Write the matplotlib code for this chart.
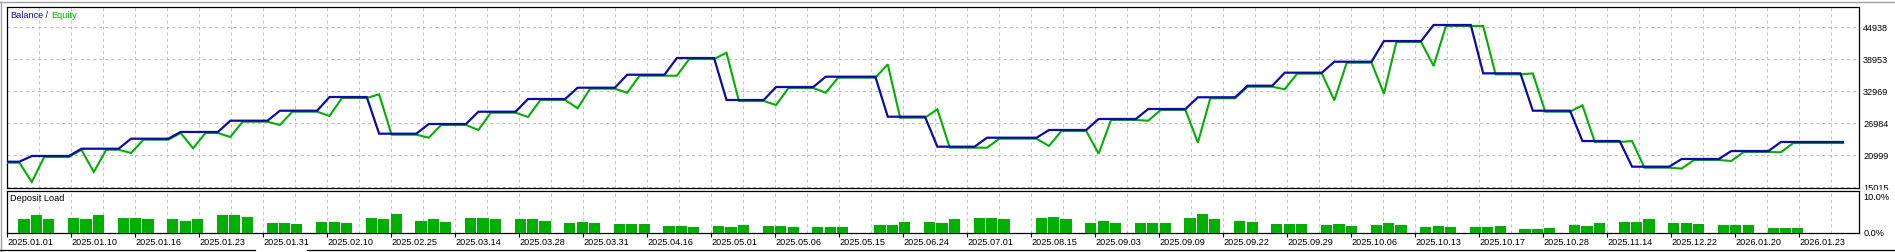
import numpy as np
import matplotlib
matplotlib.use("Agg")
import matplotlib.pyplot as plt
from matplotlib import transforms
from matplotlib.patches import Rectangle
from matplotlib.lines import Line2D

# ---------------- data (x = deal number) ----------------
balance = [
    19800, 19800,
    20870, 20870, 20870, 20870,
    22230, 22230, 22230, 22230,
    24100, 24100, 24100, 24100,
    25360, 25360, 25360, 25360,
    27470, 27470, 27470, 27470,
    29340, 29340, 29340, 29340,
    31900, 31900, 31900, 31900,
    25040, 25040, 25040, 25040,
    26850, 26850, 26850, 26850,
    29150, 29150, 29150, 29150,
    31530, 31530, 31530, 31530,
    33640, 33640, 33640, 33640,
    36070, 36070, 36070, 36070,
    39190, 39190, 39190, 39190,
    31340, 31340, 31340, 31340,
    33770, 33770, 33770, 33770,
    35700, 35700, 35700, 35700, 35700,
    28220, 28220, 28220, 28220,
    22610, 22610, 22610, 22610,
    24290, 24290, 24290, 24290, 24290,
    25730, 25730, 25730, 25730,
    27790, 27790, 27790, 27790,
    29660, 29660, 29660, 29660,
    31850, 31850, 31850, 31850,
    34010, 34010, 34010,
    36450, 36450, 36450, 36450,
    38500, 38500, 38500, 38500,
    42370, 42370, 42370, 42370,
    45370, 45370, 45370, 45370,
    36330, 36330, 36330, 36330,
    29340, 29340, 29340, 29340,
    23670, 23670, 23670, 23670,
    18870, 18870, 18870, 18870,
    20310, 20310, 20310, 20310,
    21800, 21800, 21800, 21800,
    23490, 23490, 23490, 23490, 23490, 23490,
]

equity = [
    19800, 19800, 16190, 20870, 20870, 20870,          # 0-5
    22230, 18060, 22230, 22230,                        # 6-9
    21620, 24100, 24100, 24100,                        # 10-13
    25360, 22500, 25360, 25360,                        # 14-17
    24610, 27470, 27470, 27470,                        # 18-21
    26850, 29340, 29340, 29340,                        # 22-25
    28540, 31900, 31900, 31900,                        # 26-29
    32590, 25040, 25040, 25040,                        # 30-33
    24480, 26850, 26850, 26850,                        # 34-37
    25920, 29150, 29150, 29150,                        # 38-41
    28350, 31530, 31530, 31530,                        # 42-45
    29980, 33640, 33640, 33640,                        # 46-49
    32890, 36070, 36070, 36070,                        # 50-53
    36070, 39190, 39190, 39190,                        # 54-57
    40370, 31340, 31340, 31340,                        # 58-61
    30590, 33770, 33770, 33770,                        # 62-65
    32890, 35700, 35700, 35700, 35700,                 # 66-70
    38200, 28220, 28220, 28220,                        # 71-74
    29790, 22610, 22610, 22610,                        # 75-78
    22610, 24290, 24290, 24290, 24290,                 # 79-83
    22930, 25730, 25730, 25730,                        # 84-87
    21490, 27790, 27790, 27790,                        # 88-91
    27650, 29660, 29660, 29660,                        # 92-95
    23540, 31850, 31850, 31850,                        # 96-99
    34010, 34010, 34010,                               # 100-102
    33530, 36450, 36450, 36450,                        # 103-106
    31470, 38500, 38500, 38500,                        # 107-110
    32710, 42370, 42370, 42370,                        # 111-114
    37890, 45370, 45370, 45370,                        # 115-118
    45370, 36330, 36330, 36330,                        # 119-122
    36500, 29340, 29340, 29340,                        # 123-126
    30540, 23670, 23670, 23670,                        # 127-130
    23850, 18870, 18870, 18870,                        # 131-134
    18700, 20310, 20310, 20310,                        # 135-138
    20120, 21800, 21800, 21800,                        # 139-142
    21750, 23490, 23490, 23490, 23490, 23490,          # 143-148
]

load_idx = [1, 2, 3, 5, 6, 7, 9, 10, 11, 13, 14, 15, 17, 18, 19, 21, 22, 23,
            25, 26, 27, 29, 30, 31, 33, 34, 35, 37, 38, 39, 41, 42, 43,
            45, 46, 47, 49, 50, 51, 53, 54, 55, 57, 58, 59, 61, 62, 63,
            65, 66, 67, 70, 71, 72, 74, 75, 76, 78, 79, 80, 83, 84, 85,
            87, 88, 89, 91, 92, 93, 95, 96, 97, 99, 100, 102, 103, 104,
            106, 107, 108, 110, 111, 112, 114, 115, 116, 118, 119, 120,
            122, 123, 124, 126, 127, 128, 130, 131, 132, 134, 135, 136,
            138, 139, 140, 142, 143, 144]
load_pct = [3.8, 4.7, 3.6, 4.1, 3.8, 4.9, 4.1, 4.1, 3.6, 3.6, 3.3, 3.8, 4.7, 4.9, 4.4,
            2.7, 2.7, 2.5, 3.0, 3.0, 2.7, 4.1, 3.8, 5.2, 3.3, 3.6, 3.0, 4.1, 4.1, 3.8,
            3.8, 3.8, 3.3, 2.7, 3.0, 2.7, 2.5, 2.5, 2.5, 1.9, 1.9, 1.6, 1.9, 1.6, 2.2,
            1.9, 1.9, 1.6, 1.6, 1.6, 1.6, 2.2, 2.2, 3.0, 3.0, 2.7, 3.8, 4.1, 4.1, 3.8,
            4.1, 4.4, 3.8, 2.7, 3.3, 2.7, 2.7, 2.7, 2.7, 4.1, 5.2, 3.8, 3.3, 3.0,
            2.5, 2.5, 2.5, 2.2, 2.5, 1.9, 2.2, 2.7, 2.2, 1.6, 1.9, 1.6, 1.6, 1.6, 1.9,
            1.1, 1.1, 1.4, 2.2, 1.9, 2.7, 3.0, 3.0, 3.8, 2.7, 2.7, 2.5, 2.2, 2.2, 2.2,
            1.4, 1.4, 1.4]

date_labels = ["2025.01.01", "2025.01.10", "2025.01.16", "2025.01.23", "2025.01.31",
               "2025.02.10", "2025.02.25", "2025.03.14", "2025.03.28", "2025.03.31",
               "2025.04.16", "2025.05.01", "2025.05.06", "2025.05.15", "2025.06.24",
               "2025.07.01", "2025.08.15", "2025.09.03", "2025.09.09", "2025.09.22",
               "2025.09.29", "2025.10.06", "2025.10.13", "2025.10.17", "2025.10.28",
               "2025.11.14", "2025.12.22", "2026.01.20", "2026.01.23"]
value_ticks = [15015, 20999, 26984, 32969, 38953, 44938]
load_ticks = [0.0, 10.0]

assert len(balance) == len(equity) == 149
assert len(load_idx) == len(load_pct)

# ---------------- layout ----------------
W, H, DPI = 1895, 252, 100
plt.rcParams['lines.scale_dashes'] = False
FONT = 'Liberation Sans'
FS = 6.6
BLUE = '#0c0ca8'
GREEN = '#00b000'
GRID = '#c4c4c4'
DASH = (0, (2.2, 2.2))

fig = plt.figure(figsize=(W / DPI, H / DPI), dpi=DPI, facecolor='white')

def fbox(x0, y0, x1, y1):
    return [x0 / W, 1 - y1 / H, (x1 - x0) / W, (y1 - y0) / H]

L, R = 7, 1859
ax = fig.add_axes(fbox(L, 7, R, 188))
ax2 = fig.add_axes(fbox(L, 190.5, R, 232.7))
ax2.set_zorder(3)

px_per_deal = 12.405
x_max = (R - L) / px_per_deal
grid_step = 32 / px_per_deal

x = np.arange(len(balance))
for a in (ax, ax2):
    a.set_xlim(0, x_max)
    for s in a.spines.values():
        s.set_color('black')
        s.set_linewidth(0.9)

ax.set_ylim(14884, 48735)
ax2.set_ylim(0, 11.5)

# grid positions
minor_pos = np.arange(1, 58, 2) * grid_step
major_pos = np.arange(0, 29) * 2 * grid_step
for a in (ax, ax2):
    a.set_xticks(major_pos)
    a.set_xticks(minor_pos, minor=True)
    a.grid(True, axis='x', which='both', color=GRID, lw=0.75, linestyle=DASH)
    a.set_axisbelow(True)

ax.set_yticks(value_ticks)
ax.grid(True, axis='y', color=GRID, lw=0.75, linestyle=DASH)
ax.yaxis.tick_right()
ax.set_yticklabels([str(v) for v in value_ticks], fontsize=FS, family=FONT)
ax.tick_params(axis='y', length=0, pad=3)
ax.tick_params(axis='x', which='both', length=0, labelbottom=False)

ax2.yaxis.tick_right()
ax2.set_yticks(load_ticks)
ax2.set_yticklabels([f"{v:.1f}%" for v in load_ticks], fontsize=FS, family=FONT)
ax2.tick_params(axis='y', length=0, pad=3)
ax2.set_xticklabels(date_labels, fontsize=FS, family=FONT)
ax2.tick_params(axis='x', which='major', length=3, width=0.8, pad=0.5, color='black')
ax2.tick_params(axis='x', which='minor', length=0)
for lab in ax2.get_xticklabels():
    lab.set_ha('left')

# lines
eq_tr = transforms.offset_copy(ax.transData, fig=fig, x=0, y=-1, units='dots')
ax.plot(x, equity, color=GREEN, lw=1.5, transform=eq_tr, zorder=3,
        solid_joinstyle='miter')
ax.plot(x, balance, color=BLUE, lw=1.6, zorder=4, solid_joinstyle='miter')

# deposit load bars
ax2.bar(np.array(load_idx) - 0.08, load_pct, width=0.9, align='edge',
        color=GREEN, edgecolor='none', zorder=3)

# titles
t1 = ax.text(3 / (R - L), 1 - 8.7 / 181, "Balance", color=BLUE, fontsize=FS,
             family=FONT, transform=ax.transAxes, va='center', ha='left')
t2 = ax.annotate(" / ", xy=(1, 0), xycoords=t1, va='bottom', ha='left',
                 color='#202020', fontsize=FS, family=FONT)
ax.annotate("Equity", xy=(1, 0), xycoords=t2, va='bottom', ha='left',
            color=GREEN, fontsize=FS, family=FONT)
ax2.text(3 / (R - L), 1 - 8 / 42.2, "Deposit Load", color='black', fontsize=FS,
         family=FONT, transform=ax2.transAxes, va='center', ha='left')

# cover region right of the lower pane (clips the bottom value label)
fig.add_artist(Rectangle((R / W, 0), 1 - R / W, 1 - 190 / H,
                         transform=fig.transFigure, facecolor='white',
                         edgecolor='none', zorder=2))
# window frame lines
fig.add_artist(Line2D([0, 1], [1 - 1.7 / H] * 2, transform=fig.transFigure,
                      color='#a0a0a0', lw=1.0))
fig.add_artist(Line2D([0.6 / W] * 2, [0, 1 - 1.7 / H], transform=fig.transFigure,
                      color='#a0a0a0', lw=1.0))
# bottom tab strip lines
yb = 1 - 250.3 / H
fig.add_artist(Line2D([0, 255 / W], [yb, yb], transform=fig.transFigure,
                      color='black', lw=0.9))
fig.add_artist(Line2D([307 / W, 1], [yb, yb], transform=fig.transFigure,
                      color='black', lw=0.9))

fig.savefig('out.png', dpi=DPI, facecolor='white')
